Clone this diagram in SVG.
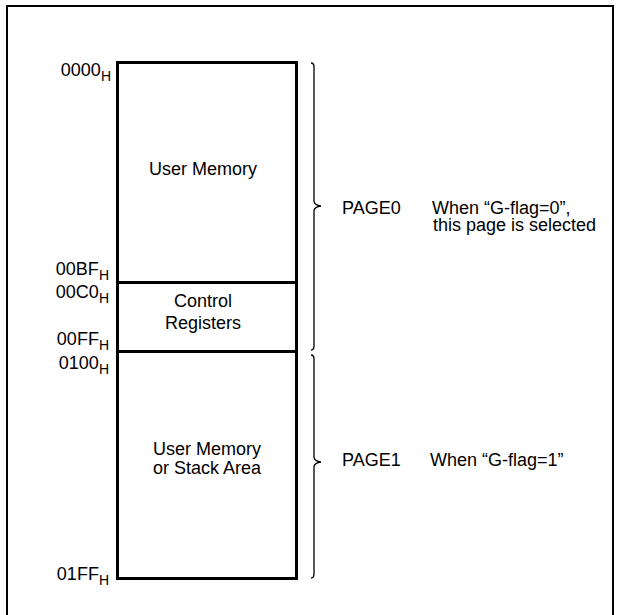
<svg xmlns="http://www.w3.org/2000/svg" width="620" height="615" viewBox="0 0 620 615">
<style>
text{font-family:"Liberation Sans",Arial,sans-serif;font-size:18px;fill:#000}
.addr{text-anchor:end}
.sub{font-size:14px}
.mid{text-anchor:middle}
.box{fill:#fff;stroke:#000;stroke-width:3}
.brace{fill:none;stroke:#000;stroke-width:1.3}
</style>
<rect x="7" y="6" width="606" height="630" fill="#fff" stroke="#000" stroke-width="2"/>
<g id="memory-map">
<g id="user-memory-0">
<rect class="box" x="117.5" y="62.5" width="179" height="220"/>
<text class="mid" x="203" y="175">User Memory</text>
</g>
<g id="control-registers">
<rect class="box" x="117.5" y="282.5" width="179" height="69"/>
<text class="mid" x="203" y="307">Control</text>
<text class="mid" x="203" y="329">Registers</text>
</g>
<g id="user-memory-1">
<rect class="box" x="117.5" y="351.5" width="179" height="227"/>
<text class="mid" x="207" y="455">User Memory</text>
<text class="mid" x="207" y="474">or Stack Area</text>
</g>
</g>
<g id="addresses">
<text class="addr" x="111" y="76">0000<tspan class="sub" dy="5">H</tspan></text>
<text class="addr" x="109" y="275">00BF<tspan class="sub" dy="5">H</tspan></text>
<text class="addr" x="109" y="298">00C0<tspan class="sub" dy="5">H</tspan></text>
<text class="addr" x="109" y="345">00FF<tspan class="sub" dy="5">H</tspan></text>
<text class="addr" x="109" y="369">0100<tspan class="sub" dy="5">H</tspan></text>
<text class="addr" x="109" y="580">01FF<tspan class="sub" dy="5">H</tspan></text>
</g>
<g id="connectors">
<path class="brace" d="M311,63 Q314,63 314,67 V201 Q314,205 321,206 Q314,207 314,211 V346 Q314,350 311,350"/>
<path class="brace" d="M311,355 Q314,355 314,359 V457 Q314,461 321,462 Q314,463 314,467 V574 Q314,578 311,578"/>
</g>
<g id="page0">
<text x="342" y="214">PAGE0</text>
<text x="432" y="214">When “G-flag=0”,</text>
<text x="433" y="231">this page is selected</text>
</g>
<g id="page1">
<text x="342" y="466">PAGE1</text>
<text x="430" y="466">When “G-flag=1”</text>
</g>
</svg>
